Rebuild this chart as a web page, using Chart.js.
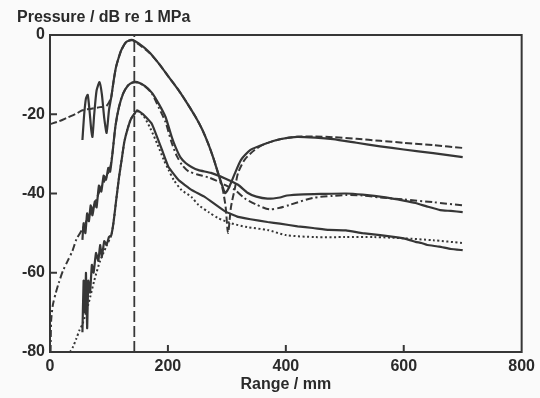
<!DOCTYPE html>
<html><head><meta charset="utf-8">
<script src="https://cdn.jsdelivr.net/npm/chart.js@4.4.0/dist/chart.umd.min.js"></script>
<style>html,body{margin:0;padding:0;background:#fafafa;}#wrap{width:540px;height:398px;}</style>
</head><body><div id="wrap"><canvas id="c" width="540" height="398"></canvas></div>
<script>
// ---- axis ticks ----
const xTickValues = [0, 200, 400, 600, 800];
const yTickValues = [-80, -60, -40, -20, 0];
const xLabel = 'Range / mm';
const yLabel = 'Pressure / dB re 1 MPa';

// ---- fundamental, measured (solid) ----
const topMeasR = [55,58,61,64,67,70,72,75,79,84,88,92,96,100,104,108,112,117,121,129,139,151,168,184,200,218,233,247,258,268,277,285,293,297,301,305,314,324,340,364,390,419,450,480,520,560,600,650,700];
const topMeasP = [-26.5,-20,-16,-15.1,-19,-24,-25.7,-20,-14,-11.9,-15,-21,-24.7,-19,-15.6,-11.5,-8.1,-5.5,-3.8,-1.8,-1.3,-2.2,-4.3,-7.1,-10.3,-13.9,-17.3,-20.7,-23.8,-27.3,-31,-34.8,-38.4,-39.9,-39.2,-38,-34.8,-31.5,-29,-27.5,-26.3,-25.7,-25.9,-26.3,-27.2,-28.1,-28.9,-29.8,-30.8];
// ---- fundamental, theory (dashed) ----
const topTheoR = [0,15,30,45,55,70,85,95,100,104,108,112,117,121,129,139,151,168,184,200,218,233,247,258,268,277,285,293,298,302,307,314,319,330,347,364,390,419,450,480,520,560,600,650,700];
const topTheoP = [-22.5,-21.8,-20.8,-19.8,-19,-18.6,-18.2,-18,-17,-15.6,-11.5,-8.1,-5.5,-3.8,-1.8,-1.2,-2.4,-4.4,-7.1,-10.3,-13.9,-17.3,-20.7,-23.8,-27.3,-31,-34.8,-39,-43.5,-50,-43.4,-38.4,-34.8,-31.5,-29,-27.5,-26.3,-25.7,-25.6,-25.8,-26.2,-26.7,-27.2,-27.8,-28.5];
// ---- second harmonic, measured (solid) ----
const midMeasR = [55,57,60,63,66,69,72,76,79,83,87,91,95,99,102,106,111,117,124,132,140,148,160,173,185,196,206,213,221,230,240,252,273,297,319,335,350,369,390,402,430,460,502,530,569,600,620,640,662,680,700];
const midMeasP = [-51.7,-47.5,-50,-45,-47,-43,-45.5,-42,-43.5,-38,-39.5,-35.5,-36.5,-33.5,-34.5,-29.8,-23,-18.2,-14.8,-12.8,-12,-11.9,-12.8,-14.6,-17.5,-20.7,-25.5,-28.3,-30.8,-32.3,-33.3,-34.1,-34.8,-36.2,-37.8,-39.8,-40.8,-41.3,-41,-40.5,-40.2,-40.1,-40,-40.3,-41,-41.8,-42.4,-43.3,-44.2,-44.4,-44.7];
// ---- second harmonic, theory (dash-dot) ----
const midTheoR = [1,2,5,10,15,22,30,38,45,55,65,75,85,95,102,106,111,117,124,132,140,148,160,173,185,196,206,215,225,235,250,270,290,305,314,330,350,372,390,406,446,480,502,530,560,600,650,700];
const midTheoP = [-80,-72,-68,-65,-62.5,-59.5,-57,-54.5,-51.5,-49,-46,-43,-39,-36,-33.5,-29.8,-23,-18.2,-14.8,-12.8,-12,-12,-12.8,-14.8,-18.5,-22,-27,-30.5,-33,-34.4,-35.2,-36,-37.3,-38.5,-39.1,-41.2,-42.8,-44,-43.6,-42.9,-41.1,-40.6,-40.4,-40.5,-41,-41.5,-42.2,-43];
// ---- third harmonic, measured (solid) ----
const lowMeasR = [55,57,59,61,63,65,68,71,74,78,82,85,88,92,96,100,104,108,112,117,122,126,132,138,148,158,173,190,201,218,240,263,297,319,340,369,390,420,446,473,502,530,560,586,605,620,630,640,660,680,700];
const lowMeasP = [-75,-62,-70,-60,-74,-62,-65,-58,-60,-55,-57,-53,-56,-52,-53,-51,-50.5,-47,-42,-36,-31,-27,-23.5,-21,-19,-20,-22.5,-29,-33.3,-36.6,-39.1,-40.9,-44.5,-45.9,-46.5,-47.2,-47.6,-48.3,-48.7,-49.2,-49.3,-50,-50.5,-51,-51.5,-52.2,-52.5,-53,-53.4,-54,-54.3];
// ---- third harmonic, theory (dotted) ----
const lowTheoR = [34,39,45,50,55,65,75,85,95,104,108,112,117,122,126,132,138,148,158,170,182,193,201,210,223,240,252,270,285,307,335,369,400,450,500,550,600,650,700];
const lowTheoP = [-80,-78.7,-76.5,-74.5,-73,-68,-62,-57,-53.5,-50.5,-47,-42,-36,-31,-27,-23.5,-21,-19.3,-20.3,-23.5,-27.5,-31.5,-34,-36.6,-39.1,-40.9,-42.9,-44.8,-46.2,-47.5,-48.5,-49.2,-50.5,-51,-51,-51,-51.3,-51.8,-52.5];
// ---- focal distance marker (vertical dashed) ----
const focusR = [143, 143];
const focusP = [-80, 0];

const toXY = (r, p) => r.map((x, i) => ({x: x, y: p[i]}));
const INK = '#363636';
const FONT = {family: "'Liberation Sans', Arial, sans-serif", size: 16, weight: 'bold'};

const frame = {
  id: 'frame',
  beforeDraw(chart) {
    const c = chart.ctx;
    c.save(); c.fillStyle = '#fafafa'; c.fillRect(0, 0, chart.width, chart.height); c.restore();
  },
  afterDatasetsDraw(chart) {
    const c = chart.ctx, a = chart.chartArea, sx = chart.scales.x, sy = chart.scales.y;
    c.save();
    c.strokeStyle = INK; c.lineWidth = 2;
    c.strokeRect(a.left, a.top, a.right - a.left, a.bottom - a.top);
    xTickValues.forEach(v => {
      const px = sx.getPixelForValue(v);
      if (px > a.left + 2 && px < a.right - 2) { c.beginPath(); c.moveTo(px, a.bottom); c.lineTo(px, a.bottom - 7); c.stroke(); }
    });
    yTickValues.forEach(v => {
      const py = sy.getPixelForValue(v);
      if (py > a.top + 2 && py < a.bottom - 2) { c.beginPath(); c.moveTo(a.left, py); c.lineTo(a.left + 7, py); c.stroke(); }
    });
    c.fillStyle = '#2a2a2a';
    c.font = "bold 16px 'Liberation Sans', Arial, sans-serif";
    c.textAlign = 'left'; c.textBaseline = 'alphabetic';
    c.fillText(yLabel, 17, 22);
    c.restore();
  }
};

const base = {showLine: true, pointRadius: 0, borderColor: INK, fill: false};
new Chart(document.getElementById('c'), {
  type: 'scatter',
  data: {datasets: [
    Object.assign({}, base, {label: 'focus', data: toXY(focusR, focusP), borderWidth: 1.8, borderDash: [11, 4], tension: 0}),
    Object.assign({}, base, {label: 'fund theory', data: toXY(topTheoR, topTheoP), borderWidth: 2, borderDash: [7, 3], tension: 0.25}),
    Object.assign({}, base, {label: 'h2 theory', data: toXY(midTheoR, midTheoP), borderWidth: 2, borderDash: [7, 3, 2, 3], tension: 0.25}),
    Object.assign({}, base, {label: 'h3 theory', data: toXY(lowTheoR, lowTheoP), borderWidth: 2, borderDash: [2, 2.5], tension: 0.25}),
    Object.assign({}, base, {label: 'fund meas', data: toXY(topMeasR, topMeasP), borderWidth: 2.2, tension: 0.2}),
    Object.assign({}, base, {label: 'h2 meas', data: toXY(midMeasR, midMeasP), borderWidth: 2.2, tension: 0.15}),
    Object.assign({}, base, {label: 'h3 meas', data: toXY(lowMeasR, lowMeasP), borderWidth: 2.2, tension: 0.1})
  ]},
  options: {
    responsive: false, animation: false, devicePixelRatio: 1,
    layout: {padding: {left: 0, right: 13, top: 35, bottom: 0}, autoPadding: false},
    plugins: {legend: {display: false}, tooltip: {enabled: false}},
    scales: {
      x: {type: 'linear', min: 0, max: 800,
        afterBuildTicks: s => { s.ticks = xTickValues.map(v => ({value: v})); },
        afterFit: s => { s.height = 46; },
        grid: {display: false, drawTicks: false, tickLength: 0}, border: {display: false},
        ticks: {font: FONT, color: '#2a2a2a', padding: 5, maxRotation: 0},
        title: {display: true, text: xLabel, font: FONT, color: '#2a2a2a', padding: {top: 0, bottom: 4}}},
      y: {type: 'linear', min: -80, max: 0,
        afterBuildTicks: s => { s.ticks = yTickValues.map(v => ({value: v})); },
        afterFit: s => { s.width = 50; },
        grid: {display: false, drawTicks: false, tickLength: 0}, border: {display: false},
        ticks: {font: FONT, color: '#2a2a2a', padding: 5}}
    }
  },
  plugins: [frame]
});
</script></body></html>
